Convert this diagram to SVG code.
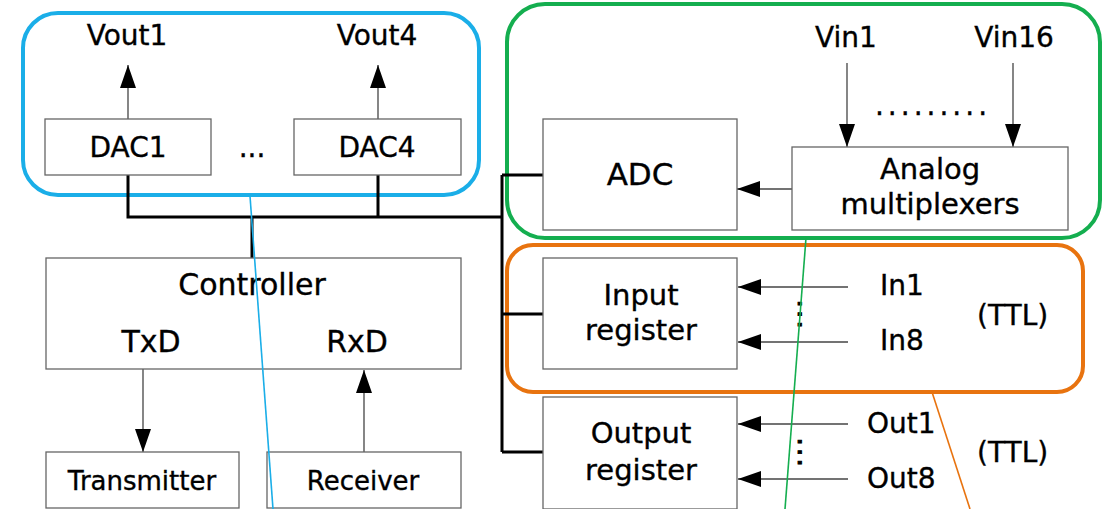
<svg xmlns="http://www.w3.org/2000/svg" width="1105" height="509" viewBox="0 0 1105 509">
  <style>
    .box { fill: #fff; stroke: #666; stroke-width: 1.3; }
    .t { font-family: "DejaVu Sans", "Noto Sans", sans-serif; font-size: 28px; fill: #000; stroke: #000; stroke-width: 0.35; text-anchor: middle; }
    .m { font-size: 30px; }
    .two { font-size: 29px; }
    .s { font-size: 26px; }
    .l { text-anchor: start; }
    .vdot { stroke-width: 0.9; }
    .bus { fill: none; stroke: #000; stroke-width: 3; }
    .sig { fill: none; stroke: #444; stroke-width: 1.3; marker-end: url(#arrow); }
    .grp { fill: none; stroke-width: 4; }
    .lead { fill: none; stroke-width: 1.6; }
  </style>
  <defs>
    <marker id="arrow" markerUnits="userSpaceOnUse" markerWidth="24" markerHeight="16" refX="23" refY="8" orient="auto">
      <path d="M0,0 L23,8 L0,16 Z" fill="#000"/>
    </marker>
  </defs>

  <!-- grouping outlines -->
  <g id="groups">
    <rect class="grp" x="23" y="13" width="456" height="182" rx="35" stroke="#1AAEE8"/>
    <rect class="grp" x="507" y="4" width="593" height="234" rx="38" stroke="#14AE4F"/>
    <rect class="grp" x="507" y="245" width="576" height="147" rx="26" stroke="#E8730F"/>
  </g>

  <!-- connectors -->
  <g id="connectors">
    <path class="bus" d="M128,175 V217 H502 M378,175 V217 M252,217 V258 M502,175 V452 M502,175 H543 M502,314 H543 M502,452 H543"/>
    <line class="sig" x1="128" y1="119" x2="128" y2="65"/>
    <line class="sig" x1="378" y1="119" x2="378" y2="65"/>
    <line class="sig" x1="143" y1="369" x2="143" y2="452"/>
    <line class="sig" x1="364" y1="452" x2="364" y2="370"/>
    <line class="sig" x1="847" y1="63" x2="847" y2="147"/>
    <line class="sig" x1="1013" y1="63" x2="1013" y2="147"/>
    <line class="sig" x1="792" y1="189" x2="737" y2="189"/>
    <line class="sig" x1="848" y1="287" x2="738" y2="287"/>
    <line class="sig" x1="848" y1="342" x2="738" y2="342"/>
    <line class="sig" x1="848" y1="424" x2="738" y2="424"/>
    <line class="sig" x1="848" y1="479" x2="738" y2="479"/>
  </g>

  <!-- DAC block -->
  <g id="dac1">
    <rect class="box" x="45" y="119" width="166" height="56"/>
    <text class="t" x="128" y="157">DAC1</text>
  </g>
  <g id="dac4">
    <rect class="box" x="294" y="119" width="167" height="56"/>
    <text class="t" x="377" y="157">DAC4</text>
  </g>
  <g id="dac-labels">
    <text class="t" x="127" y="45">Vout1</text>
    <text class="t" x="377" y="45">Vout4</text>
    <text class="t" x="252" y="157">...</text>
  </g>

  <!-- controller and serial link -->
  <g id="controller">
    <rect class="box" x="46" y="258" width="415" height="111"/>
    <text class="t m" x="252" y="295">Controller</text>
    <text class="t m" x="151" y="352">TxD</text>
    <text class="t m" x="357" y="352">RxD</text>
  </g>
  <g id="transmitter">
    <rect class="box" x="46" y="452" width="193" height="56"/>
    <text class="t s" x="142" y="490">Transmitter</text>
  </g>
  <g id="receiver">
    <rect class="box" x="267" y="452" width="194" height="56"/>
    <text class="t s" x="363" y="490">Receiver</text>
  </g>

  <!-- analog input -->
  <g id="adc">
    <rect class="box" x="543" y="119" width="194" height="111"/>
    <text class="t" x="640" y="185" style="font-size:31px">ADC</text>
  </g>
  <g id="mux">
    <rect class="box" x="792" y="147" width="276" height="83"/>
    <text class="t two" x="930" y="179">Analog</text>
    <text class="t two" x="930" y="214">multiplexers</text>
  </g>
  <g id="vin-labels">
    <text class="t" x="846" y="47">Vin1</text>
    <text class="t" x="1014" y="47">Vin16</text>
    <text class="t" x="933" y="115" style="letter-spacing:4px">.........</text>
  </g>

  <!-- digital I/O -->
  <g id="input-register">
    <rect class="box" x="543" y="258" width="194" height="111"/>
    <text class="t two" x="641" y="305">Input</text>
    <text class="t two" x="641" y="340">register</text>
  </g>
  <g id="output-register">
    <rect class="box" x="543" y="397" width="194" height="112"/>
    <text class="t two" x="641" y="443">Output</text>
    <text class="t two" x="641" y="480">register</text>
  </g>
  <g id="io-labels">
    <text class="t l" x="880" y="295">In1</text>
    <text class="t l" x="880" y="350">In8</text>
    <text class="t l" x="867" y="433">Out1</text>
    <text class="t l" x="867" y="488">Out8</text>
    <text class="t l" x="977" y="325">(TTL)</text>
    <text class="t l" x="977" y="462">(TTL)</text>
    <text class="t vdot" transform="translate(798,315) rotate(90)" style="letter-spacing:1.6px">...</text>
    <text class="t vdot" transform="translate(798,453) rotate(90)" style="letter-spacing:1.6px">...</text>
  </g>

  <!-- leader lines -->
  <g id="leaders">
    <line class="lead" x1="250" y1="196" x2="273" y2="509" stroke="#1AAEE8"/>
    <line class="lead" x1="806" y1="238" x2="785" y2="509" stroke="#14AE4F"/>
    <line class="lead" x1="932" y1="392" x2="970" y2="509" stroke="#E8730F"/>
  </g>
</svg>
